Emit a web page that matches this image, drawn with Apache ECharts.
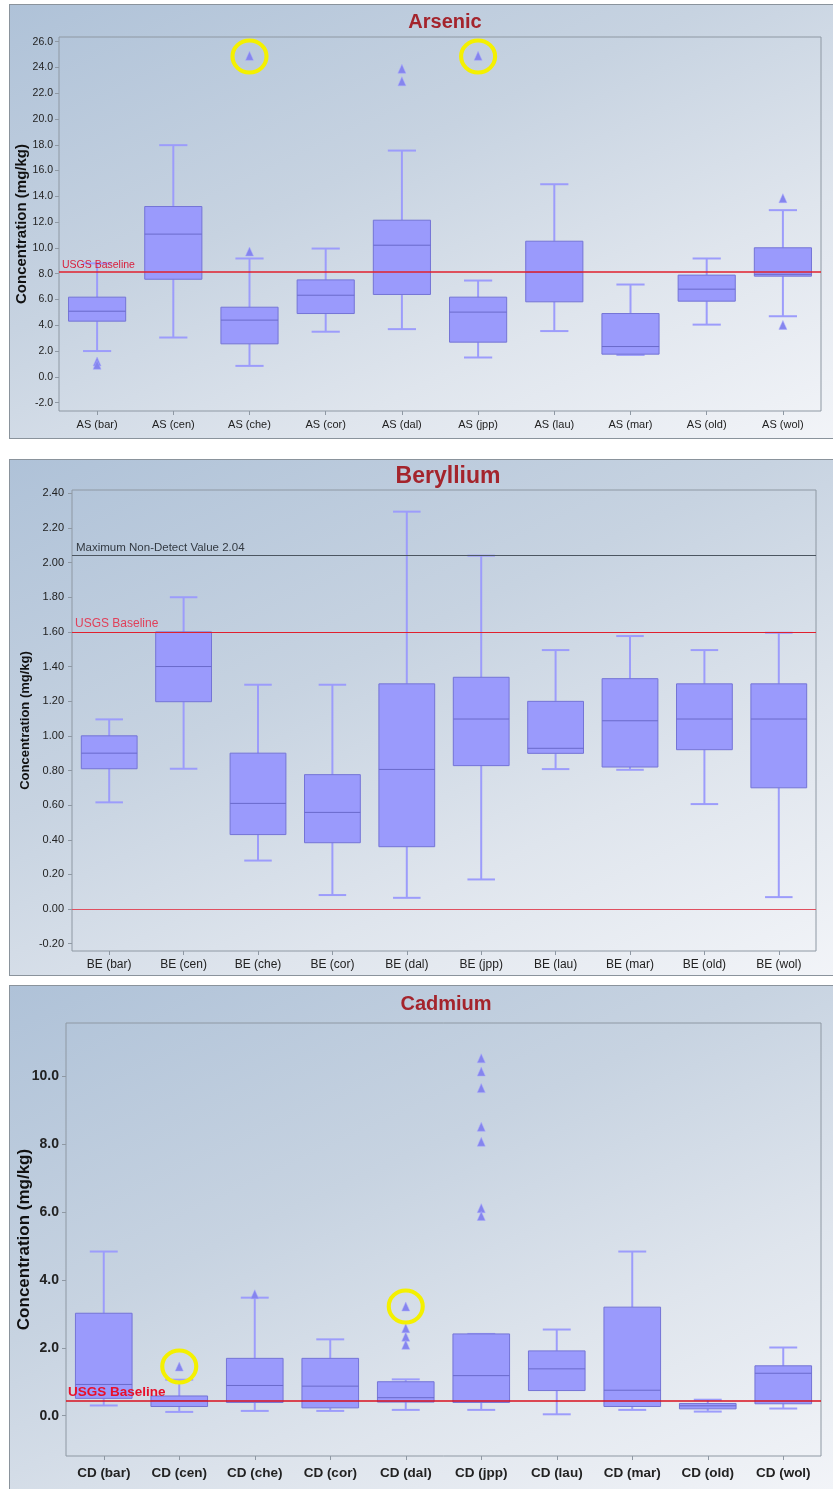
<!DOCTYPE html>
<html>
<head>
<meta charset="utf-8">
<script src="https://cdn.jsdelivr.net/npm/echarts@6/dist/echarts.min.js"></script>
<style>
  html, body { margin: 0; padding: 0; background: #ffffff; }
  body { width: 833px; height: 1489px; position: relative; overflow: hidden; }
  .panel {
    position: absolute; box-sizing: border-box;
    border: 1px solid #8a939c;
    background: linear-gradient(155deg, #afc2d8 0%, #c7d3e1 40%, #dfe5ed 70%, #f2f4f8 100%);
  }
  .chart { position: absolute; left: 0; width: 833px; }
</style>
</head>
<body>
<div class="panel" style="left:9px; top:4px; width:826px; height:435px;"></div>
<div class="panel" style="left:9px; top:459px; width:826px; height:517px;"></div>
<div class="panel" style="left:9px; top:985px; width:826px; height:506px;"></div>
<div id="as" class="chart" style="top:0px; height:440px;"></div>
<div id="be" class="chart" style="top:455px; height:522px;"></div>
<div id="cd" class="chart" style="top:980px; height:509px;"></div>
<script>
// ---------- Arsenic ----------
const asCategories = ['AS (bar)', 'AS (cen)', 'AS (che)', 'AS (cor)', 'AS (dal)', 'AS (jpp)', 'AS (lau)', 'AS (mar)', 'AS (old)', 'AS (wol)'];
const asLow    = [2.0, 3.05, 0.85, 3.5, 3.7, 1.5, 3.55, 1.7, 4.05, 4.7];
const asQ1     = [4.32, 7.57, 2.56, 4.91, 6.39, 2.69, 5.82, 1.76, 5.87, 7.81];
const asMedian = [5.09, 11.07, 4.4, 6.33, 10.21, 5.02, 8.12, 2.35, 6.8, 7.95];
const asQ3     = [6.18, 13.21, 5.4, 7.52, 12.15, 6.18, 10.52, 4.91, 7.89, 10.01];
const asHigh   = [8.8, 17.97, 9.18, 9.95, 17.55, 7.47, 14.94, 7.16, 9.18, 12.93];
const asOutliers = [[0, 1.19], [0, 0.93], [2, 9.72], [2, 24.9], [4, 23.9], [4, 22.93], [5, 24.9], [9, 13.86], [9, 4.03]];
const asFlagged = [[2, 24.85], [5, 24.85]];
const asTicks = [-2, 0, 2, 4, 6, 8, 10, 12, 14, 16, 18, 20, 22, 24, 26];
const asBaseline = 8.15;

// ---------- Beryllium ----------
const beCategories = ['BE (bar)', 'BE (cen)', 'BE (che)', 'BE (cor)', 'BE (dal)', 'BE (jpp)', 'BE (lau)', 'BE (mar)', 'BE (old)', 'BE (wol)'];
const beLow    = [0.616, 0.81, 0.28, 0.081, 0.065, 0.171, 0.808, 0.804, 0.606, 0.069];
const beQ1     = [0.81, 1.197, 0.43, 0.383, 0.36, 0.828, 0.899, 0.82, 0.92, 0.70];
const beMedian = [0.90, 1.40, 0.61, 0.558, 0.806, 1.097, 0.928, 1.087, 1.097, 1.097];
const beQ3     = [1.0, 1.60, 0.90, 0.776, 1.30, 1.338, 1.199, 1.33, 1.30, 1.30];
const beHigh   = [1.095, 1.80, 1.295, 1.295, 2.294, 2.04, 1.495, 1.576, 1.495, 1.595];
const beTicks = [-0.2, 0, 0.2, 0.4, 0.6, 0.8, 1.0, 1.2, 1.4, 1.6, 1.8, 2.0, 2.2, 2.4];
const beBaseline = 1.60;
const beNonDetect = 2.04;

// ---------- Cadmium ----------
const cdCategories = ['CD (bar)', 'CD (cen)', 'CD (che)', 'CD (cor)', 'CD (dal)', 'CD (jpp)', 'CD (lau)', 'CD (mar)', 'CD (old)', 'CD (wol)'];
const cdLow    = [0.30, 0.11, 0.14, 0.14, 0.17, 0.17, 0.04, 0.17, 0.12, 0.21];
const cdQ1     = [0.51, 0.27, 0.39, 0.23, 0.40, 0.39, 0.74, 0.27, 0.20, 0.35];
const cdMedian = [0.92, 0.44, 0.89, 0.87, 0.53, 1.18, 1.38, 0.75, 0.29, 1.25];
const cdQ3     = [3.02, 0.58, 1.69, 1.69, 1.00, 2.41, 1.91, 3.20, 0.36, 1.47];
const cdHigh   = [4.84, 1.06, 3.48, 2.25, 1.07, 2.41, 2.54, 4.84, 0.47, 2.01];
const cdOutliers = [[1, 1.45], [2, 3.58], [4, 3.22], [4, 2.58], [4, 2.33], [4, 2.09],
                    [5, 10.54], [5, 10.15], [5, 9.66], [5, 8.52], [5, 8.08], [5, 6.12], [5, 5.89]];
const cdFlagged = [[1, 1.45], [4, 3.22]];
const cdTicks = [0, 2, 4, 6, 8, 10];
const cdBaseline = 0.44;

// ---------- shared drawing ----------
const BOX_FILL = '#9a9afc';
const BOX_EDGE = '#7474d6';
const WHISKER = '#9c9cfb';
const RED = '#e0202e';

function boxRows(low, q1, med, q3, high) {
  return low.map((v, i) => [i, v, q1[i], med[i], q3[i], high[i]]);
}

function renderBox(params, api) {
  const idx = api.value(0);
  const band = api.size([1, 0])[0];
  const bw = band * 0.75, cw = band * 0.37;
  const pLow = api.coord([idx, api.value(1)]);
  const pQ1 = api.coord([idx, api.value(2)]);
  const pMed = api.coord([idx, api.value(3)]);
  const pQ3 = api.coord([idx, api.value(4)]);
  const pHigh = api.coord([idx, api.value(5)]);
  const x = pLow[0];
  const ws = { stroke: WHISKER, lineWidth: 2 };
  const children = [
    { type: 'line', shape: { x1: x, y1: pQ1[1], x2: x, y2: pLow[1] }, style: ws },
    { type: 'line', shape: { x1: x, y1: pQ3[1], x2: x, y2: pHigh[1] }, style: ws },
    { type: 'line', shape: { x1: x - cw / 2, y1: pLow[1], x2: x + cw / 2, y2: pLow[1] }, style: ws },
    { type: 'line', shape: { x1: x - cw / 2, y1: pHigh[1], x2: x + cw / 2, y2: pHigh[1] }, style: ws },
    { type: 'rect', shape: { x: x - bw / 2, y: pQ3[1], width: bw, height: pQ1[1] - pQ3[1] },
      style: { fill: BOX_FILL, stroke: BOX_EDGE, lineWidth: 1 } },
    { type: 'line', shape: { x1: x - bw / 2, y1: pMed[1], x2: x + bw / 2, y2: pMed[1] },
      style: { stroke: '#6a6acb', lineWidth: 1 } }
  ];
  return { type: 'group', children: children };
}

function buildOption(cfg) {
  const series = [
    {
      type: 'custom',
      renderItem: renderBox,
      data: cfg.rows,
      encode: { x: 0, y: [1, 2, 3, 4, 5] },
      z: 2,
      silent: true
    },
    {
      type: 'line',
      data: [],
      silent: true,
      z: 5,
      markLine: {
        silent: true,
        symbol: 'none',
        animation: false,
        data: cfg.lines.map(l => ({
          yAxis: l.value,
          lineStyle: { color: l.color, width: l.width, type: 'solid' },
          label: l.text ? {
            show: true, position: 'insideStartTop', distance: l.distance || [3, 1],
            formatter: l.text, color: l.textColor || l.color,
            fontSize: l.fontSize, fontWeight: l.fontWeight || 'normal',
            fontFamily: 'Liberation Sans, Arial, sans-serif'
          } : { show: false }
        }))
      }
    },
    {
      type: 'scatter',
      data: cfg.outliers,
      symbol: 'triangle',
      symbolSize: [8, 9],
      itemStyle: { color: '#8585ee', borderColor: '#a8a8ff', borderWidth: 0.5, opacity: 1 },
      z: 4,
      silent: true
    }
  ];
  if (cfg.flagged && cfg.flagged.length) {
    series.push({
      type: 'scatter',
      data: cfg.flagged,
      symbol: 'circle',
      symbolSize: [34, 32],
      itemStyle: { color: 'rgba(0,0,0,0)', borderColor: '#f4f000', borderWidth: 4, opacity: 1 },
      z: 6,
      silent: true
    });
  }
  return {
    animation: false,
    backgroundColor: 'transparent',
    title: {
      text: cfg.title, left: cfg.titleX, top: cfg.titleTop, textAlign: 'center',
      textStyle: { color: '#a4242c', fontSize: cfg.titleSize, fontWeight: 'bold',
                   fontFamily: 'Liberation Sans, Arial, sans-serif' }
    },
    grid: {
      left: cfg.grid.left, top: cfg.grid.top, width: cfg.grid.width, height: cfg.grid.height,
      outerBoundsMode: 'none', containLabel: false,
      show: true, borderColor: '#8e98a3', borderWidth: 1, backgroundColor: 'transparent'
    },
    xAxis: {
      type: 'category',
      data: cfg.categories,
      boundaryGap: true,
      axisLine: { show: false, onZero: false },
      axisTick: { show: true, alignWithLabel: true, length: 4, lineStyle: { color: '#8e98a3' } },
      axisLabel: { color: '#222', fontSize: cfg.xFont.size, fontWeight: cfg.xFont.weight,
                   fontFamily: 'Liberation Sans, Arial, sans-serif', margin: cfg.xFont.margin, interval: 0 },
      splitLine: { show: false }
    },
    yAxis: {
      type: 'value',
      min: cfg.yMin, max: cfg.yMax,
      name: 'Concentration (mg/kg)',
      nameLocation: 'middle',
      nameGap: cfg.yName.gap,
      nameMoveOverlap: false,
      nameTextStyle: { color: '#111', fontSize: cfg.yName.size, fontWeight: 'bold',
                       fontFamily: 'Liberation Sans, Arial, sans-serif' },
      axisLine: { show: false, onZero: false },
      axisTick: { show: true, length: 4, customValues: cfg.ticks, lineStyle: { color: '#8e98a3' } },
      axisLabel: {
        customValues: cfg.ticks,
        formatter: v => v.toFixed(cfg.decimals),
        color: '#222', fontSize: cfg.yFont.size, fontWeight: cfg.yFont.weight,
        fontFamily: 'Liberation Sans, Arial, sans-serif', margin: cfg.yFont.margin
      },
      splitLine: { show: false }
    },
    series: series
  };
}

const asChart = echarts.init(document.getElementById('as'));
asChart.setOption(buildOption({
  title: 'Arsenic', titleX: 440, titleTop: 7, titleSize: 20,
  grid: { left: 59, top: 37, width: 762, height: 374 },
  categories: asCategories,
  rows: boxRows(asLow, asQ1, asMedian, asQ3, asHigh),
  outliers: asOutliers, flagged: asFlagged,
  yMin: -2.65, yMax: 26.36, ticks: asTicks, decimals: 1,
  yName: { gap: 30, size: 15 },
  yFont: { size: 10.5, weight: 'normal', margin: 6 },
  xFont: { size: 11, weight: 'normal', margin: 8 },
  lines: [{ value: asBaseline, color: RED, width: 1.5, text: 'USGS Baseline', fontSize: 10.5,
            textColor: '#d8203c' }]
}));

const beChart = echarts.init(document.getElementById('be'));
beChart.setOption(buildOption({
  title: 'Beryllium', titleX: 443, titleTop: 5, titleSize: 23,
  grid: { left: 72, top: 35, width: 744, height: 461 },
  categories: beCategories,
  rows: boxRows(beLow, beQ1, beMedian, beQ3, beHigh),
  outliers: [], flagged: [],
  yMin: -0.242, yMax: 2.419, ticks: beTicks, decimals: 2,
  yName: { gap: 40, size: 13 },
  yFont: { size: 11, weight: 'normal', margin: 8 },
  xFont: { size: 12, weight: 'normal', margin: 8 },
  lines: [
    { value: beNonDetect, color: '#4c5661', width: 1.2, text: 'Maximum Non-Detect Value 2.04',
      fontSize: 11.5, textColor: '#333a42', distance: [4, 2] },
    { value: beBaseline, color: RED, width: 1.2, text: 'USGS Baseline', fontSize: 12,
      textColor: '#e0405a', distance: [3, 2] },
    { value: 0, color: '#e05060', width: 1.2 }
  ]
}));

const cdChart = echarts.init(document.getElementById('cd'));
cdChart.setOption(buildOption({
  title: 'Cadmium', titleX: 441, titleTop: 9, titleSize: 20,
  grid: { left: 66, top: 43, width: 755, height: 433 },
  categories: cdCategories,
  rows: boxRows(cdLow, cdQ1, cdMedian, cdQ3, cdHigh),
  outliers: cdOutliers, flagged: cdFlagged,
  yMin: -1.19, yMax: 11.58, ticks: cdTicks, decimals: 1,
  yName: { gap: 33, size: 17 },
  yFont: { size: 14, weight: 'bold', margin: 7 },
  xFont: { size: 13.5, weight: 'bold', margin: 10 },
  lines: [{ value: cdBaseline, color: '#d8101e', width: 1.5, text: 'USGS Baseline', fontSize: 13.5,
            fontWeight: 'bold', textColor: '#e8102a', distance: [2, 1] }]
}));
</script>
</body>
</html>
